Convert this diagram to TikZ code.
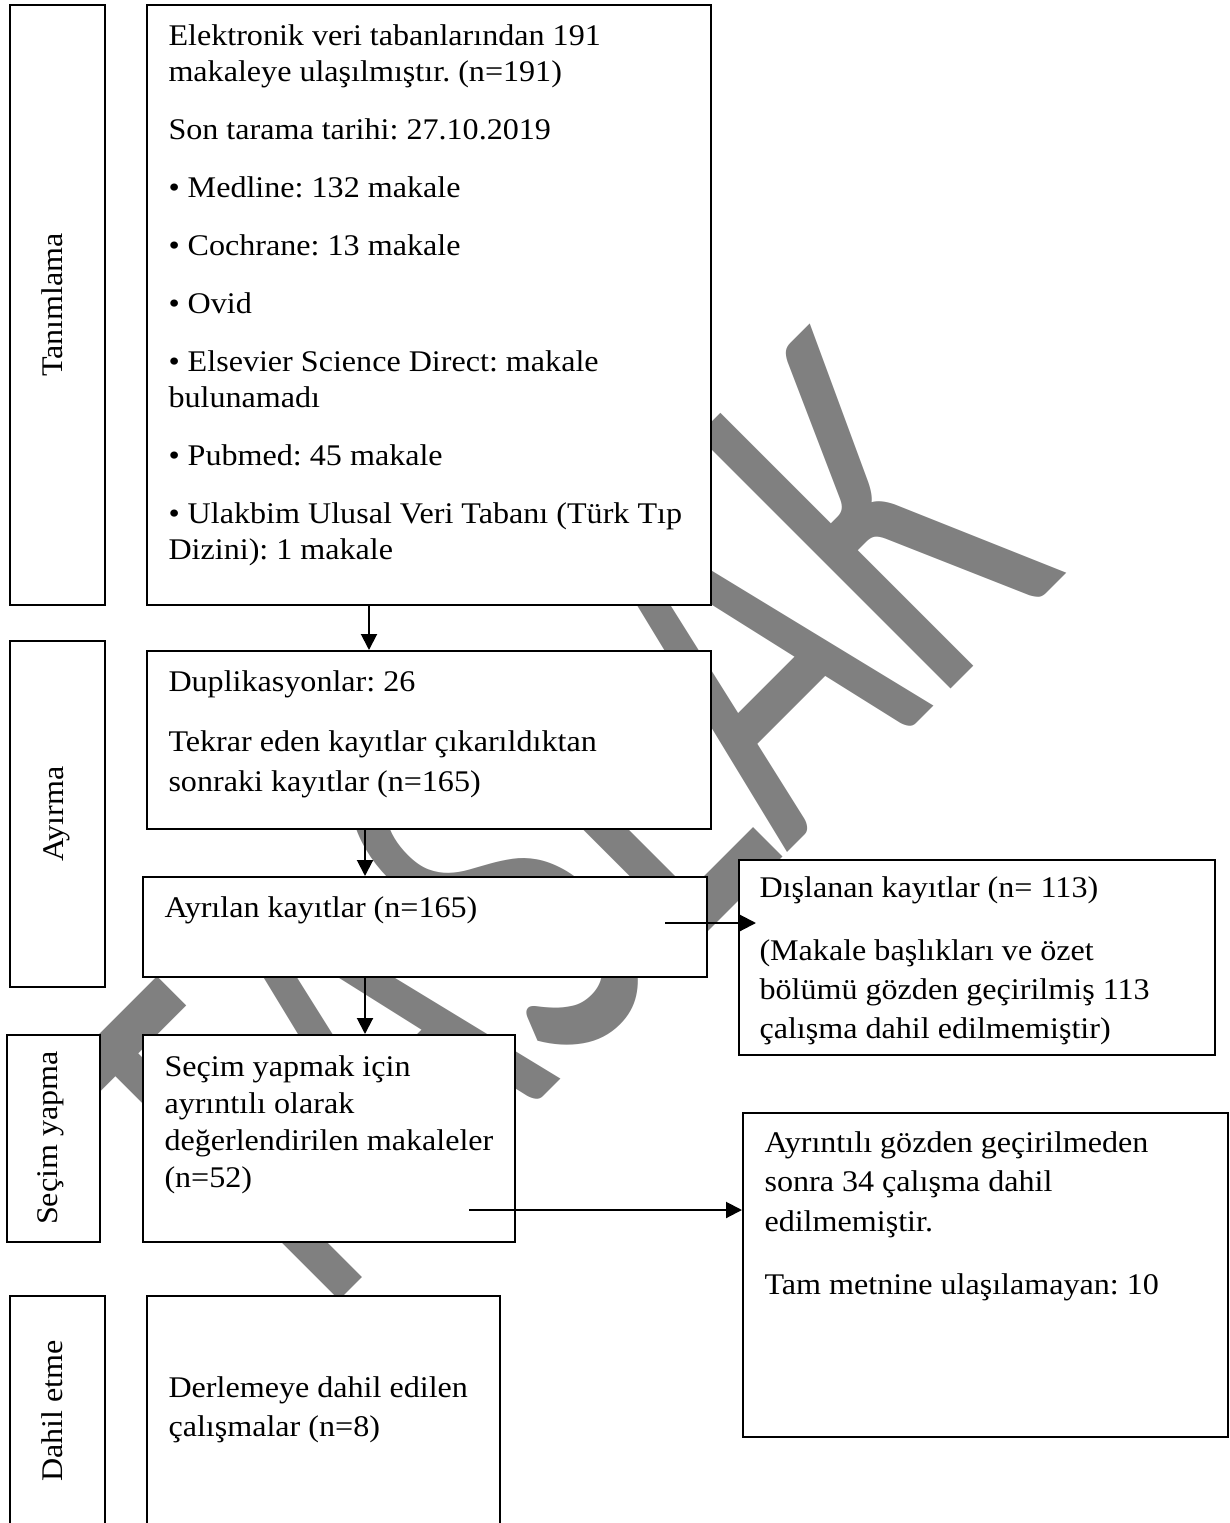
\documentclass[tikz,border=0pt]{standalone}
\usepackage{fontspec}
\usepackage{graphicx}
\setmainfont[FakeStretch=1.07]{Liberation Serif}
\newfontfamily\wmfont[Kerning=Off]{Carlito}
\usetikzlibrary{arrows.meta,fit,calc}
\definecolor{wmgray}{RGB}{128,128,128}
\frenchspacing
\begin{document}
\frenchspacing
\begin{tikzpicture}[x=0.4pt,y=-0.4pt,
  box/.style={draw=black, line width=0.8pt, fill=white, inner sep=0pt},
  txt/.style={anchor=north west, inner sep=0pt, align=left},
  side/.style={anchor=base, rotate=90, inner sep=0pt, font=\fontsize{12pt}{14pt}\selectfont},
  arr/.style={line width=0.8pt, -{Triangle[length=6.4pt,width=6.4pt]}}]
\useasboundingbox (0,0) rectangle (1229,1523);
\fill[white] (0,0) rectangle (1229,1523);
\begin{scope}
\clip (0,0) rectangle (1229,1523);
% watermark
\node[anchor=base west, rotate=45, inner sep=0pt, text=wmgray,
      font=\wmfont\fontsize{100pt}{100pt}\selectfont] (wm) at (288,1352)
      {\scalebox{1.45}[2.23]{TASLAK}};
% side boxes
\node[box, fit={(10,5) (105,605)}] (tanbox) {};
\node[box, fit={(10,641) (105,987)}] (aybox) {};
\node[box, fit={(7,1035) (100,1242)}] (secbox) {};
\node[box, fit={(10,1296) (105,1560)}] (dahbox) {};
% main boxes
\node[box, fit={(147,5) (711,605)}] (top) {};
\node[box, fit={(147,651) (711,829)}] (dup) {};
\node[box, fit={(143,877) (707,977)}] (ayr) {};
\node[box, fit={(143,1035) (515,1242)}] (secm) {};
\node[box, fit={(147,1296) (500,1560)}] (derl) {};
\node[box, fit={(739,860) (1215,1055)}] (disl) {};
\node[box, fit={(743,1113) (1228,1437)}] (ayrt) {};
\end{scope}
% side labels
\node[side] (l1) at (62,305) {Tanımlama};
\node[side] (l2) at (63,814) {Ayırma};
\node[side] (l3) at (57,1138) {Seçim yapma};
\node[side] (l4) at (62,1411) {Dahil etme};
% texts
\node[txt, font=\fontsize{12pt}{14.4pt}\selectfont] (toptxt) at (168,24)
  {Elektronik veri tabanlarından 191\\
   makaleye ulaşılmıştır. (n=191)\\[8.8pt]
   Son tarama tarihi: 27.10.2019\\[8.8pt]
   • Medline: 132 makale\\[8.8pt]
   • Cochrane: 13 makale\\[8.8pt]
   • Ovid\\[8.8pt]
   • Elsevier Science Direct: makale\\
   bulunamadı\\[8.8pt]
   • Pubmed: 45 makale\\[8.8pt]
   • Ulakbim Ulusal Veri Tabanı (Türk Tıp\\
   Dizini): 1 makale};
\node[txt, font=\fontsize{12pt}{16pt}\selectfont] (duptxt) at (168,670)
  {Duplikasyonlar: 26\\[8pt]
   Tekrar eden kayıtlar çıkarıldıktan\\
   sonraki kayıtlar (n=165)};
\node[txt, font=\fontsize{12pt}{16pt}\selectfont] (ayrtxt) at (164,896)
  {Ayrılan kayıtlar (n=165)};
\node[txt, font=\fontsize{12pt}{14.8pt}\selectfont] (secmtxt) at (164,1055)
  {Seçim yapmak için\\
   ayrıntılı olarak\\
   değerlendirilen makaleler\\
   (n=52)};
\node[txt, font=\fontsize{12pt}{15.6pt}\selectfont] (derltxt) at (168,1376)
  {Derlemeye dahil edilen\\
   çalışmalar (n=8)};
\node[txt, font=\fontsize{12pt}{15.6pt}\selectfont] (disltxt) at (759,876)
  {Dışlanan kayıtlar (n= 113)\\[9.6pt]
   (Makale başlıkları ve özet\\
   bölümü gözden geçirilmiş 113\\
   çalışma dahil edilmemiştir)};
\node[txt, font=\fontsize{12pt}{15.8pt}\selectfont] (ayrttxt) at (764,1131)
  {Ayrıntılı gözden geçirilmeden\\
   sonra 34 çalışma dahil\\
   edilmemiştir.\\[9.4pt]
   Tam metnine ulaşılamayan: 10};
% connectors
\coordinate (x1) at (369,0);
\coordinate (x2) at (365,0);
\coordinate (s4) at (665,923);
\coordinate (s5) at (469,1210);
\draw[arr] (top.south -| x1) -- (dup.north -| x1);
\draw[arr] (dup.south -| x2) -- (ayr.north -| x2);
\draw[arr] (ayr.south -| x2) -- (secm.north -| x2);
\draw[arr] (s4) -- ($(disl.west |- s4)+(18,0)$);
\draw[arr] (s5) -- (ayrt.west |- s5);
\end{tikzpicture}
\end{document}
